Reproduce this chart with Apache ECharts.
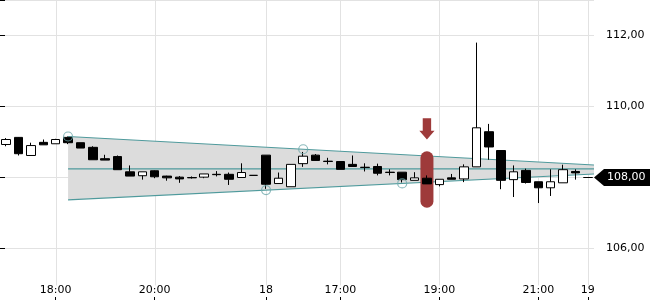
<!DOCTYPE html>
<html><head><meta charset="utf-8">
<script src="https://cdn.jsdelivr.net/npm/echarts@6/dist/echarts.min.js"></script>
<style>html,body{margin:0;padding:0;background:#fff}#c{width:650px;height:300px}</style>
</head><body><div id="c"></div>
<script>
// ---- data ----
const categories = [
 '17 17:00','17 17:15','17 17:30','17 17:45','17 18:00','17 18:15','17 18:30','17 18:45',
 '17 19:00','17 19:15','17 19:30','17 19:45','17 20:00','17 20:15','17 20:30','17 20:45',
 '17 21:00','17 21:15','17 21:30','17 21:45','17 22:00',
 '18 15:30','18 15:45','18 16:00','18 16:15','18 16:30','18 16:45','18 17:00','18 17:15',
 '18 17:30','18 17:45','18 18:00','18 18:15','18 18:30','18 18:45','18 19:00','18 19:15',
 '18 19:30','18 19:45','18 20:00','18 20:15','18 20:30','18 20:45','18 21:00','18 21:15',
 '18 21:30','18 21:45',
 '19 15:30'
];
const opens  = [108.93,109.13,108.62,108.99,108.95,109.13,108.98,108.85,108.53,108.59,108.16,108.05,108.19,108.04,108.01,108.00,
                108.01,108.09,108.09,108.00,108.06,108.63,107.83,107.74,108.39,108.63,108.46,108.45,108.37,108.29,108.31,108.15,
                108.15,107.92,107.98,107.80,107.99,107.96,108.30,109.29,108.76,107.94,108.20,107.88,107.71,107.85,108.17,108.00];
const closes = [109.07,108.67,108.90,108.92,109.07,108.98,108.83,108.50,108.49,108.22,108.04,108.16,108.02,107.99,107.96,107.99,
                108.10,108.08,107.95,108.14,108.06,107.81,107.98,108.37,108.60,108.48,108.45,108.23,108.31,108.28,108.12,108.14,
                107.94,107.99,107.82,107.95,107.95,108.30,109.40,108.86,107.92,108.16,107.86,107.71,107.88,108.22,108.13,108.00];
const lows   = [108.88,108.62,108.62,108.92,108.95,108.94,108.83,108.50,108.49,108.22,108.04,107.94,107.98,107.91,107.85,107.97,
                107.98,108.03,107.79,108.00,108.06,107.68,107.83,107.74,108.30,108.48,108.37,108.23,108.31,108.17,108.06,108.06,
                107.86,107.92,107.82,107.75,107.95,107.87,108.30,108.50,107.67,107.45,107.83,107.28,107.48,107.85,107.94,108.00];
const highs  = [109.11,109.14,108.98,109.07,109.09,109.155,108.98,108.88,108.64,108.62,108.34,108.16,108.20,108.05,108.04,108.03,
                108.10,108.18,108.14,108.40,108.06,108.63,108.14,108.37,108.72,108.66,108.555,108.45,108.62,108.40,108.39,108.23,
                108.15,108.15,108.06,107.95,108.10,108.37,111.80,109.51,108.76,108.34,108.25,107.88,108.23,108.36,108.23,108.00];

const tickIndex  = [4, 12, 21, 27, 35, 43, 47];
const tickLabels = ['18:00', '20:00', '18', '17:00', '19:00', '21:00', '19'];

// trend channel (x in bar units: bar i centre = i + 0.5)
const channelX      = [5.5, 48];
const channelUpper  = [109.155, 108.352];
const channelMiddle = [108.245, 108.245];
const channelLower  = [107.372, 108.099];
const touchX = [5.5, 21.5, 24.5, 32.5];
const touchY = [109.155, 107.646, 108.796, 107.834];

// signal marker on bar 34
const signalX = [34.5];
const signalPill  = [108.74, 107.15];          // top, bottom
const signalArrow = [109.67, 109.32, 109.07];  // shaft top, head start, tip

const lastPrice = [108.00];

const yMin = 104, yMax = 113, gridLineBottom = 104.96;

// ---- chart ----
const chart = echarts.init(document.getElementById('c'), null, {renderer: 'canvas'});
const FONT = 'DejaVu Sans';
const fmt = v => v.toFixed(2).replace('.', ',');

const candleData = opens.map((o, i) => [o, closes[i], lows[i], highs[i]]);

chart.setOption({
  animation: false,
  backgroundColor: '#fff',
  grid: {left: 0, right: 56, top: 0, bottom: -19.5, containLabel: false, outerBoundsMode: 'none'},
  xAxis: [{
    type: 'category',
    data: categories,
    boundaryGap: true,
    position: 'bottom',
    offset: -19.5,
    axisLine: {show: false},
    axisTick: {show: true, inside: true, length: 3, alignWithLabel: true,
      interval: (i) => tickIndex.indexOf(i) >= 0, lineStyle: {color: '#000'}},
    axisLabel: {show: true, inside: true, margin: 4,
      interval: (i) => tickIndex.indexOf(i) >= 0,
      formatter: (v, i) => { const k = tickIndex.indexOf(i); return k >= 0 ? tickLabels[k] : ''; },
      color: '#000', fontSize: 11, fontFamily: FONT},
    splitLine: {show: false}
  }, {
    type: 'value', min: 0, max: 48, show: false
  }],
  yAxis: {
    type: 'value', position: 'right', min: yMin, max: yMax, interval: 2, offset: 4,
    axisLine: {show: false},
    axisTick: {show: true, length: 5, lineStyle: {color: '#000'}},
    axisLabel: {margin: 8, color: '#000', fontSize: 11, fontFamily: FONT,
      formatter: v => ((v >= yMax || v <= yMin) ? '' : fmt(v))},
    splitLine: {lineStyle: {color: '#e2e2e2', width: 1}}
  },
  series: [
    { // vertical grid lines
      type: 'custom', xAxisIndex: 1, z: 1, silent: true,
      data: tickIndex.map(i => [i + 0.5, yMax]),
      renderItem: (params, api) => {
        const x = api.value(0);
        const t = api.coord([x, yMax]);
        const b = api.coord([x, gridLineBottom]);
        const px = Math.round(t[0]) + 0.5;
        return {type: 'line', shape: {x1: px, y1: t[1], x2: px, y2: b[1]},
          style: {stroke: '#e2e2e2', lineWidth: 1}};
      }
    },
    { // channel
      type: 'custom', xAxisIndex: 1, z: 2, silent: true,
      data: [[channelX[0], channelMiddle[0]]],
      renderItem: (params, api) => {
        const pu = channelX.map((x, i) => api.coord([x, channelUpper[i]]));
        const pm = channelX.map((x, i) => api.coord([x, channelMiddle[i]]));
        const pl = channelX.map((x, i) => api.coord([x, channelLower[i]]));
        const ln = (pts) => ({type: 'polyline', shape: {points: pts},
          style: {stroke: '#4f9a9c', lineWidth: 1.2, fill: null}});
        return {type: 'group', children: [
          {type: 'polygon', shape: {points: [pu[0], pu[1], pl[1], pl[0]]}, style: {fill: '#dcdcdc'}},
          ln(pu), ln(pm), ln(pl)
        ]};
      }
    },
    { // signal pill
      type: 'custom', xAxisIndex: 1, z: 3, silent: true,
      data: signalX.map(x => [x, signalPill[0]]),
      renderItem: (params, api) => {
        const x = api.value(0);
        const t = api.coord([x, signalPill[0]]);
        const b = api.coord([x, signalPill[1]]);
        const w = 13;
        return {type: 'rect', shape: {x: t[0] - w / 2, y: t[1], width: w, height: b[1] - t[1], r: w / 2},
          style: {fill: '#9e3a3a'}};
      }
    },
    {
      type: 'candlestick', xAxisIndex: 0, yAxisIndex: 0, z: 4,
      data: candleData,
      barWidth: 9,
      itemStyle: {color: '#ffffff', color0: '#000000', borderColor: '#000000', borderColor0: '#000000',
        borderColorDoji: '#000000', borderWidth: 1}
    },
    { // touch circles
      type: 'scatter', xAxisIndex: 1, z: 5, silent: true,
      data: touchX.map((x, i) => [x, touchY[i]]),
      symbol: 'circle', symbolSize: 9,
      itemStyle: {color: 'rgba(0,0,0,0)', borderColor: '#6fa9ab', borderWidth: 1.2}
    },
    { // signal arrow
      type: 'custom', xAxisIndex: 1, z: 6, silent: true,
      data: signalX.map(x => [x, signalArrow[0]]),
      renderItem: (params, api) => {
        const x = api.value(0);
        const a = api.coord([x, signalArrow[0]]);
        const h = api.coord([x, signalArrow[1]]);
        const tip = api.coord([x, signalArrow[2]]);
        const sw = 4.2, hw = 7.6, cx = a[0];
        return {type: 'polygon', shape: {points: [
          [cx - sw, a[1]], [cx + sw, a[1]], [cx + sw, h[1]], [cx + hw, h[1]],
          [cx, tip[1]], [cx - hw, h[1]], [cx - sw, h[1]]]},
          style: {fill: '#9e3a3a'}};
      }
    },
    { // last price tag
      type: 'custom', xAxisIndex: 1, z: 10, silent: true, clip: false,
      data: lastPrice.map(p => [48, p]),
      renderItem: (params, api) => {
        const p = api.coord([48, api.value(1)]);
        const x0 = p[0], y = p[1];
        return {type: 'group', children: [
          {type: 'polygon', shape: {points: [[x0, y], [x0 + 10, y - 8.5], [650, y - 8.5], [650, y + 8.5], [x0 + 10, y + 8.5]]},
            style: {fill: '#000'}},
          {type: 'text', x: 607, y: y, style: {text: fmt(api.value(1)), fill: '#fff', fontSize: 11,
            fontFamily: FONT, verticalAlign: 'middle', align: 'left'}}
        ]};
      }
    }
  ]
});
</script>
</body></html>
